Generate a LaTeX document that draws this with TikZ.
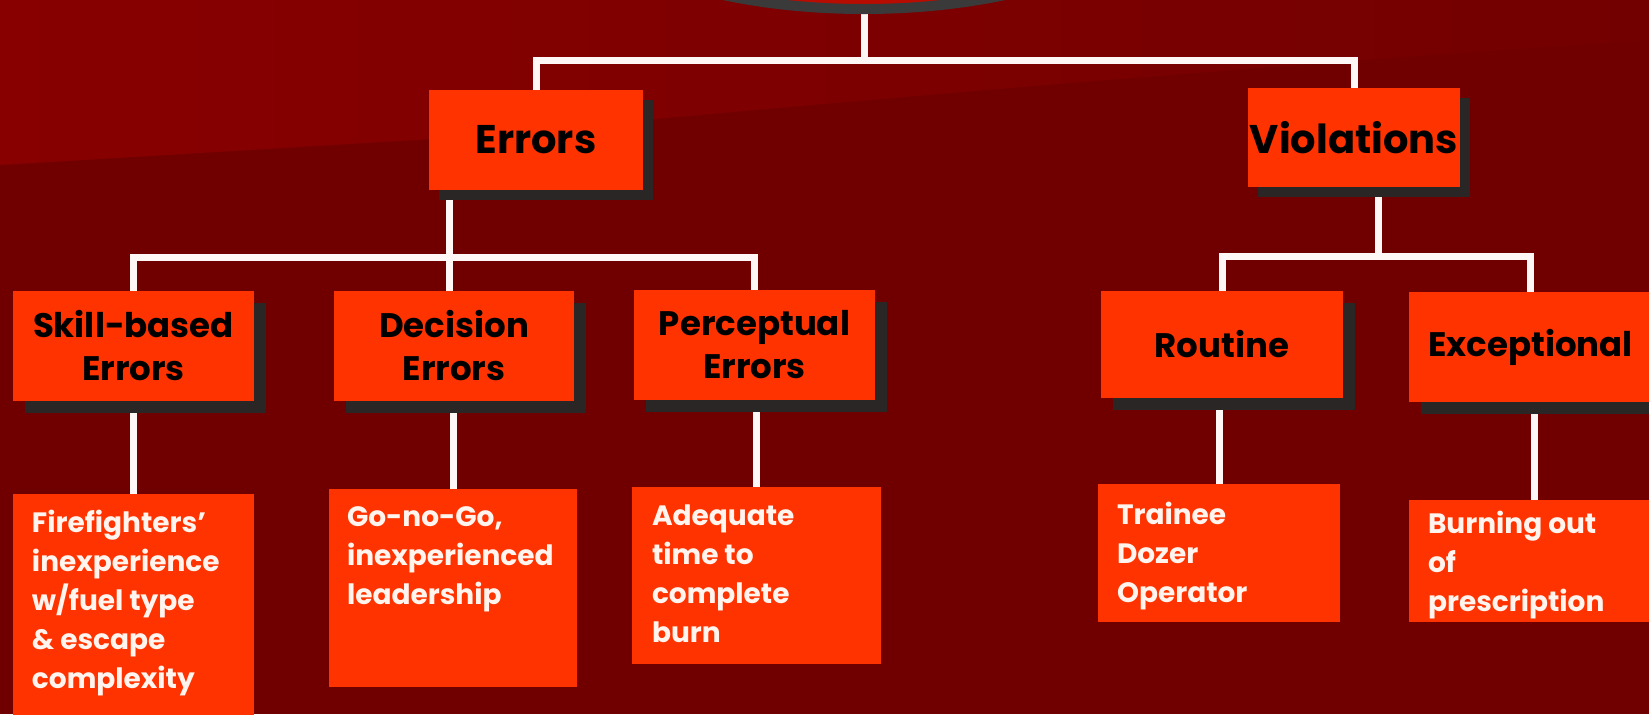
\documentclass[tikz,border=0pt]{standalone}
\usepackage{fontspec}
\setmainfont{Poppins}
\usetikzlibrary{shapes.geometric,shadows,backgrounds}
\definecolor{bgdark}{HTML}{700000}
\definecolor{bglight}{HTML}{880000}
\definecolor{bgmid}{HTML}{730000}
\definecolor{boxc}{HTML}{FF3300}
\definecolor{shadowc}{HTML}{2B2626}
\definecolor{linec}{HTML}{FFF6F6}
\definecolor{ringc}{HTML}{3A3A3A}
\definecolor{topc}{HTML}{B80C00}
\definecolor{whitetext}{HTML}{FFF4EE}
\begin{document}
\begin{tikzpicture}[x=0.5pt,y=-0.5pt,
  basebox/.style={fill=boxc, inner sep=0pt, outer sep=0pt, align=center, text=black},
  box1/.style={basebox, font=\fontsize{20pt}{25pt}\selectfont\bfseries,
    drop shadow={shadow xshift=5pt, shadow yshift=-5pt, fill=shadowc, opacity=1}},
  box2/.style={basebox, font=\fontsize{17pt}{21.5pt}\selectfont\bfseries,
    drop shadow={shadow xshift=6pt, shadow yshift=-6pt, fill=shadowc, opacity=1}},
  tbox/.style={fill=boxc, inner sep=0pt, outer sep=0pt},
  ttext/.style={anchor=north west, inner sep=0pt, outer sep=0pt, align=left,
    text=whitetext, font=\fontsize{14pt}{19.5pt}\selectfont\bfseries},
  conn/.style={draw=linec, line width=3.5pt}]
\useasboundingbox (0,0) rectangle (1649,714);
\clip (0,0) rectangle (1649,714);
\begin{scope}[on background layer]
  \fill[bgdark] (0,0) rectangle (1649,714);
  \shade[left color=bglight, right color=bgmid] (0,0) -- (0,165) -- (450,138)
    .. controls (800,105) and (1200,70) .. (1649,40) -- (1649,0) -- cycle;
\end{scope}

\node[ellipse, fill=topc, draw=ringc, line width=5pt, minimum width=300pt,
  minimum height=120pt, inner sep=0pt, outer sep=0pt] (top) at (864,-111) {};

\node[box1, minimum width=107pt, minimum height=50pt] (err) at (536,140) {Errors};
\node[box1, minimum width=106pt, minimum height=49.5pt] (vio) at (1354,137.5) {Violations};

\node[box2, minimum width=120.5pt, minimum height=55pt] (skill) at (133.5,346) {Skill-based\\Errors};
\node[box2, minimum width=120pt, minimum height=55pt] (dec) at (454,346) {Decision\\Errors};
\node[box2, minimum width=120.5pt, minimum height=55pt] (perc) at (754.5,345) {Perceptual\\Errors};
\node[box2, minimum width=121pt, minimum height=53.5pt] (rout) at (1222,344.5) {Routine};
\node[box2, minimum width=121.5pt, minimum height=55pt] (exc) at (1530.5,347) {Exceptional};

\node[tbox, minimum width=120.5pt, minimum height=118pt] (skillb) at (133.5,612) {};
\node[tbox, minimum width=124pt, minimum height=99pt] (decb) at (453,588) {};
\node[tbox, minimum width=124.5pt, minimum height=88.5pt] (percb) at (756.5,575.5) {};
\node[tbox, minimum width=121pt, minimum height=69pt] (routb) at (1219,553) {};
\node[tbox, minimum width=125.5pt, minimum height=61pt] (excb) at (1534.5,561) {};

\node[ttext] (skillt) at (32,510) {Firefighters'\\inexperience\\w/fuel type\\\& escape\\complexity};
\node[ttext] (dect) at (347,507) {Go-no-Go,\\inexperienced\\leadership};
\node[ttext] (perct) at (652,505) {Adequate\\time to\\complete\\burn};
\node[ttext] (routt) at (1117,502) {Trainee\\Dozer\\Operator};
\node[ttext] (exct) at (1428,511) {Burning out\\of\\prescription};

\coordinate (tj) at (864,60);
\coordinate (ej) at (449,257);
\coordinate (vj) at (1378,256);
\begin{scope}[on background layer]
  \draw[conn] (top.south) -- (tj);
  \draw[conn] (err.north) |- (tj) -| (vio.north);
  \draw[conn] (err.south -| ej) -- (ej);
  \draw[conn] (skill.north) |- (ej) -| (perc.north);
  \draw[conn] (ej) -- (dec.north -| ej);
  \draw[conn] (vio.south -| vj) -- (vj);
  \draw[conn] (rout.north) |- (vj) -| (exc.north);
  \draw[conn] (skill.south -| skillb.north) -- (skillb.north);
  \draw[conn] (dec.south -| decb.north) -- (decb.north);
  \draw[conn] (perc.south -| percb.north) -- (percb.north);
  \draw[conn] (rout.south -| routb.north) -- (routb.north);
  \draw[conn] (exc.south -| excb.north) -- (excb.north);
\end{scope}
\end{tikzpicture}
\end{document}
